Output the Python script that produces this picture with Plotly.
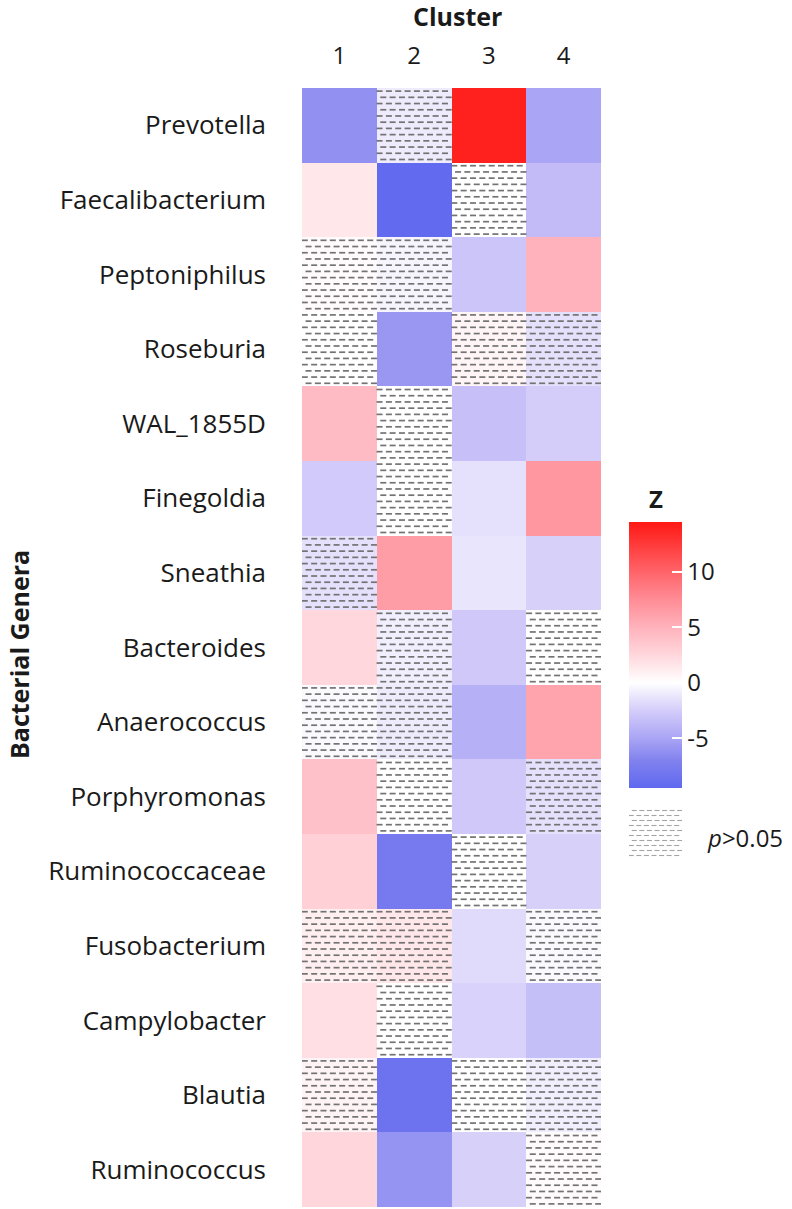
import plotly.graph_objects as go

W, H = 792, 1209

genera = ["Prevotella", "Faecalibacterium", "Peptoniphilus", "Roseburia", "WAL_1855D",
          "Finegoldia", "Sneathia", "Bacteroides", "Anaerococcus", "Porphyromonas",
          "Ruminococcaceae", "Fusobacterium", "Campylobacter", "Blautia", "Ruminococcus"]
clusters = ["1", "2", "3", "4"]

# Z values per cluster (rows follow `genera`)
cluster1 = [-6.2, 1.5, 0.3, 0.0, 4.4, -2.7, -1.5, 2.5, -0.3, 4.0, 3.0, 1.0, 2.0, 0.7, 2.6]
cluster2 = [-1.0, -9.3, -0.5, -5.8, 0.0, 0.0, 6.4, -0.8, -1.0, 0.0, -7.8, 1.5, 0.0, -8.5, -6.0]
cluster3 = [14.0, 0.0, -3.0, 0.6, -3.3, -1.5, -1.3, -2.8, -4.3, -2.8, 0.0, -1.8, -2.2, 0.0, -2.3]
cluster4 = [-5.0, -3.6, 5.0, -1.5, -2.5, 6.8, -2.3, 0.0, 6.0, -1.5, -2.3, -0.3, -3.4, -0.8, 0.3]

# 1 = not significant (p > 0.05)
nonsig1 = [0, 0, 1, 1, 0, 0, 1, 0, 1, 0, 0, 1, 0, 1, 0]
nonsig2 = [1, 0, 1, 0, 1, 1, 0, 1, 1, 1, 0, 1, 1, 0, 0]
nonsig3 = [0, 1, 0, 1, 0, 0, 0, 0, 0, 0, 1, 0, 0, 1, 0]
nonsig4 = [0, 0, 0, 1, 0, 0, 0, 1, 0, 1, 0, 1, 0, 1, 1]

cols = [cluster1, cluster2, cluster3, cluster4]
masks = [nonsig1, nonsig2, nonsig3, nonsig4]
nrow, ncol = len(genera), len(clusters)
z = [[cols[j][i] for j in range(ncol)] for i in range(nrow)]

zmin, zmax = -9.5, 14.5
stops = [(-9.5, "rgb(95,105,240)"), (-7, "rgb(130,130,238)"), (-5, "rgb(170,165,245)"),
         (-2.5, "rgb(212,205,250)"), (0, "rgb(255,255,255)"), (2.5, "rgb(255,215,220)"),
         (5, "rgb(255,178,188)"), (7.5, "rgb(255,140,150)"), (10, "rgb(255,100,105)"),
         (14.5, "rgb(255,25,20)")]
colorscale = [[(v - zmin) / (zmax - zmin), c] for v, c in stops]

# pixel layout
hx0, hx1, hy0, hy1 = 302, 601, 88, 1207
cb_x0, cb_x1, cb_y0, cb_y1 = 629, 682, 522, 788
FONT = "Open Sans"
TXT = "#1a1a1a"

fig = go.Figure()
fig.add_trace(go.Heatmap(
    z=z, x=list(range(ncol)), y=list(range(nrow)),
    zmin=zmin, zmax=zmax, colorscale=colorscale, hoverinfo="skip",
    colorbar=dict(
        x=cb_x0 / W, xanchor="left", xpad=0, ypad=0,
        y=1 - (cb_y0 + cb_y1) / 2 / H, yanchor="middle",
        len=cb_y1 - cb_y0, lenmode="pixels", thickness=cb_x1 - cb_x0, thicknessmode="pixels",
        outlinewidth=0, ticks="inside", ticklen=10, tickwidth=2, tickcolor="white",
        tickvals=[-5, 0, 5, 10], ticktext=["-5", "0", "5", "10"],
        tickfont=dict(family=FONT, size=24, color=TXT),
    ),
))

# hatch dashes for non-significant cells
nr_dash, nc_dash = 12, 8
dx, dy = [], []
for j in range(ncol):
    for i in range(nrow):
        if masks[j][i]:
            for k in range(nr_dash):
                for m in range(nc_dash):
                    dx.append(j - 0.5 + (m + 0.3 + 0.4 * (k % 2)) / nc_dash)
                    dy.append(i - 0.5 + (k + 0.5) / nr_dash)
fig.add_trace(go.Scatter(
    x=dx, y=dy, mode="markers", hoverinfo="skip", showlegend=False, cliponaxis=True,
    marker=dict(symbol="line-ew", size=4.3, line=dict(width=1.7, color="rgb(115,115,115)")),
))

# legend swatch dashes
lx, ly = [], []
for k in range(10):
    for m in range(7):
        lx.append((m + 0.3 + 0.4 * (k % 2)) / 7)
        ly.append((k + 0.5) / 10)
fig.add_trace(go.Scatter(
    x=lx, y=ly, mode="markers", hoverinfo="skip", showlegend=False, xaxis="x2", yaxis="y2",
    marker=dict(symbol="line-ew", size=3.6, line=dict(width=1.1, color="rgb(165,165,165)")),
))

fig.update_layout(
    width=W, height=H, margin=dict(l=0, r=0, t=0, b=0),
    paper_bgcolor="white", plot_bgcolor="white", showlegend=False,
    xaxis=dict(domain=[hx0 / W, hx1 / W], range=[-0.5, ncol - 0.5], side="top",
               tickvals=list(range(ncol)), ticktext=clusters, ticks="", showgrid=False,
               zeroline=False, showline=False, ticklabelstandoff=18, fixedrange=True,
               tickfont=dict(family=FONT, size=24, color=TXT)),
    yaxis=dict(domain=[1 - hy1 / H, 1 - hy0 / H], range=[nrow - 0.5, -0.5],
               tickvals=list(range(nrow)), ticktext=genera, ticks="", showgrid=False,
               zeroline=False, showline=False, ticklabelstandoff=35, fixedrange=True,
               tickfont=dict(family=FONT, size=26, color=TXT)),
    xaxis2=dict(domain=[cb_x0 / W, cb_x1 / W], range=[0, 1], visible=False, anchor="y2"),
    yaxis2=dict(domain=[1 - 858 / H, 1 - 808 / H], range=[0, 1], visible=False, anchor="x2"),
)

# left-side colorbar ticks
for v in [-5, 0, 5, 10]:
    ypx = cb_y1 - (v - zmin) / (zmax - zmin) * (cb_y1 - cb_y0)
    fig.add_shape(type="line", xref="paper", yref="paper",
                  x0=cb_x0 / W, x1=(cb_x0 + 10) / W, y0=1 - ypx / H, y1=1 - ypx / H,
                  line=dict(color="white", width=2))

fig.add_annotation(text="<b>Cluster</b>", xref="paper", yref="paper", x=457 / W, y=1 - 16 / H,
                   showarrow=False, xanchor="center", yanchor="middle",
                   font=dict(family=FONT, size=25, color=TXT))
fig.add_annotation(text="<b>Bacterial Genera</b>", xref="paper", yref="paper", x=0,
                   y=1 - 655 / H, showarrow=False, textangle=-90, xanchor="left",
                   yanchor="middle", font=dict(family=FONT, size=25, color=TXT))
fig.add_annotation(text="<b>Z</b>", xref="paper", yref="paper", x=(cb_x0 + cb_x1) / 2 / W,
                   y=1 - 498 / H, showarrow=False, xanchor="center", yanchor="middle",
                   font=dict(family=FONT, size=24, color=TXT))
fig.add_annotation(text="<i>p</i>&gt;0.05", xref="paper", yref="paper", x=705 / W,
                   y=1 - 837 / H, showarrow=False, xanchor="left", yanchor="middle",
                   font=dict(family=FONT, size=24, color=TXT))

fig.write_html("out.html", config={"displayModeBar": False, "staticPlot": True},
               post_script="document.body.style.margin='0px';")
